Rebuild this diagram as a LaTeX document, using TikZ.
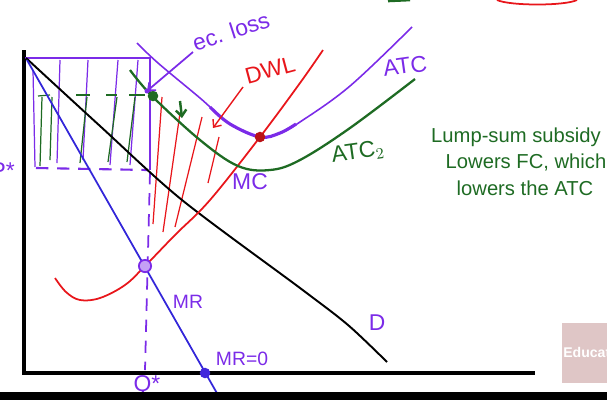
\documentclass[tikz,border=0pt]{standalone}
\usepackage{fontspec}
\setmainfont{Liberation Sans}
\usetikzlibrary{arrows.meta}
\definecolor{pur}{HTML}{7B2BE8}
\definecolor{blu}{HTML}{3326D9}
\definecolor{rd}{HTML}{E8161B}
\definecolor{grn}{HTML}{1E6B23}
\definecolor{wm}{HTML}{DFC6C6}
\tikzset{
  lbl/.style={inner sep=0pt, font=\fontsize{13}{15}\selectfont},
  slbl/.style={inner sep=0pt, font=\fontsize{11}{13}\selectfont},
  note/.style={inner sep=0pt, text=grn, font=\fontsize{11.5}{14}\selectfont},
  axisline/.style={line width=1.8pt, black},
  hatchp/.style={pur, line width=0.7pt},
  hatchg/.style={grn, line width=0.7pt},
  hatchr/.style={rd, line width=0.7pt},
  barb/.style={-{Straight Barb[length=3.5pt, width=6pt]}},
  dotmark/.style={circle, inner sep=0pt, minimum size=6pt}
}
\begin{document}
\begin{tikzpicture}[x=0.02cm, y=-0.02cm]
\useasboundingbox (0,0) rectangle (607,400);

% axes
\coordinate (O) at (24,373);
\coordinate (Ytop) at (24,50);
\coordinate (Xend) at (535,373);
\draw[axisline] (Ytop) -- (O) -- (Xend);

% hatching in rectangle (purple)
\draw[hatchp] (33,70) -- (35,167);
\draw[hatchp] (60,60) -- (57,163);
\draw[hatchp] (88,60) -- (83,160);
\draw[hatchp] (118,60) -- (110,165);
\draw[hatchp] (138,60) -- (130,165);
% green hatching
\draw[hatchg] (38,96) -- (50,95);
\draw[hatchg] (76,95) -- (90,95);
\draw[hatchg] (106,95) -- (117,95);
\draw[hatchg] (129,95) -- (145,95);
\draw[hatchg] (42,97) -- (40,166);
\draw[hatchg] (52,97) -- (50,160);
\draw[hatchg] (87,97) -- (80,163);
\draw[hatchg] (117,97) -- (108,162);
\draw[hatchg] (135,97) -- (127,162);
% red hatching (DWL)
\draw[hatchr] (162,97) -- (153,224);
\draw[hatchr] (180,113) -- (163,232);
\draw[hatchr] (202,117) -- (175,227);
\draw[hatchr] (219,137) -- (208,183);

% rectangle P* / Q*
\draw[pur, line width=1.3pt] (25,58) -- (150,58) -- (150,170);
\draw[pur, line width=1.2pt, dash pattern=on 7pt off 5pt] (36,168) -- (148,170);
\draw[pur, line width=1pt, dash pattern=on 7pt off 5pt] (150,172) -- (145,370);

% demand
\draw[black, line width=1.1pt] plot[smooth, tension=0.5] coordinates {(26,58) (100,126) (182,200) (300,288) (348,325) (387,362)};

% MR
\coordinate (MRtop) at (27,60);
\coordinate (MRbot) at (218,395);
\draw[blu, line width=1pt] (MRtop) -- (MRbot);

% MC
\draw[rd, line width=1pt] plot[smooth, tension=0.6] coordinates {(55,278) (66,292) (80,300) (100,298) (125,285) (145,266) (175,235) (210,200) (260,137) (300,83) (323,50)};

% ATC
\draw[pur, line width=0.9pt] plot[smooth, tension=0.6] coordinates {(137,43) (158,63) (200,98) (230,124) (260,137) (280,133) (300,122) (350,86) (412,27)};
\draw[pur, line width=1.8pt] plot[smooth, tension=0.6] coordinates {(210,107) (230,124) (260,137) (280,133) (296,124)};

% ATC2
\draw[grn, line width=1.3pt] plot[smooth, tension=0.6] coordinates {(130,70) (152,96) (200,140) (238,166) (270,170) (300,160) (350,128) (415,79)};

% points
\node[dotmark, fill=pur!45, draw=pur, line width=1pt, minimum size=7pt] (Eq) at (145,266) {};
\node[dotmark, fill=blu!80!pur] (MRzero) at (205,373) {};
\node[dotmark, fill=rd!80!black] (MinATC) at (260,137) {};
\node[dotmark, fill=grn] (Gpt) at (153,96) {};
\coordinate (EcTip) at (147,91);

% labels
\node[lbl, text=pur, rotate=18] (ecloss) at (231,31) {ec. loss};
\node[lbl, text=rd, rotate=15] (dwl) at (270,70) {DWL};
\node[lbl, text=pur, rotate=8] (atc) at (405,66) {ATC};
\node[lbl, text=grn, rotate=8] (atc2) at (358,152) {ATC$_2$};
\node[lbl, text=pur] (mc) at (250,182) {MC};
\node[slbl, text=pur] (mr) at (188,302) {MR};
\node[slbl, text=pur] (mr0) at (242,359) {MR=0};
\node[lbl, text=pur] (dd) at (377,323) {D};
\node[lbl, text=pur] (qstar) at (147,386) {Q*};
\node[lbl, text=pur, anchor=east] (pstar) at (15,171) {P*};

% arrows
\coordinate (ecStart) at (193,52);
\draw[pur, line width=1pt, barb] (ecStart) -- (EcTip);
\coordinate (dwlStart) at (243,87);
\coordinate (dwlTip) at (213,128);
\draw[rd, line width=0.8pt, barb] (dwlStart) -- (dwlTip);
\coordinate (gA) at (180,101);
\coordinate (gB) at (182,118);
\draw[grn, line width=1.4pt, barb] (gA) -- (gB);
\fill[pur] (EcTip) circle (2.5);

% note
\node[note] (n1) at (516,137) {Lump-sum subsidy};
\node[note] (n2) at (526,162) {Lowers FC, which};
\node[note] (n3) at (525,188) {lowers the ATC};

% top partial marks
\draw[grn, line width=1.5pt] (388,1) -- (410,0);
\draw[rd, line width=1pt] (497,0) .. controls (510,6) and (565,6) .. (577,0);

% watermark
\fill[wm] (562,323) rectangle (607,383);
\node[inner sep=0pt, anchor=west, text=white, font=\bfseries\fontsize{8}{9}\selectfont] (edu) at (563,352) {Educat};

% bottom bar
\fill[black] (0,392) rectangle (607,400);
\end{tikzpicture}
\end{document}
